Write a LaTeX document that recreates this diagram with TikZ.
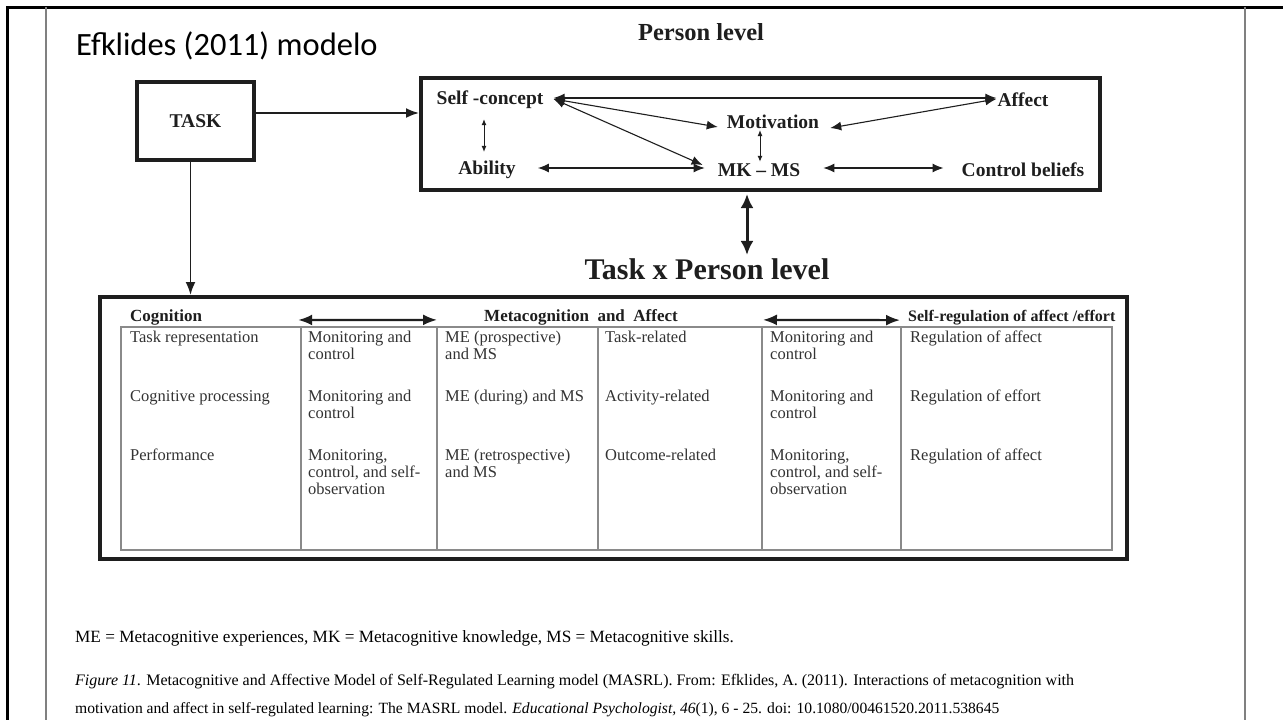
\documentclass[tikz,border=0pt]{standalone}
\usepackage{fontspec}
\setmainfont{Liberation Serif}
\newfontfamily\titlefont{Carlito}
\usetikzlibrary{arrows.meta}
\definecolor{ink}{HTML}{1E1E1E}
\definecolor{celltext}{HTML}{333333}
\definecolor{tline}{HTML}{8A8A8A}
\definecolor{frameg}{HTML}{808080}
\begin{document}
\begin{tikzpicture}[x=1pt,y=-1pt,
  lbl/.style={font=\fontsize{19.5}{22}\selectfont\bfseries, text=ink, inner sep=0pt},
  hdr/.style={font=\fontsize{17}{19}\selectfont\bfseries, text=ink, inner sep=0pt},
  cell/.style={font=\fontsize{16.5}{17}\selectfont, text=celltext, inner sep=0pt, anchor=north west, align=left},
  bigbox/.style={draw=ink, line width=4pt, inner sep=0pt},
  parr/.style={draw=ink, line width=1.1pt, {Latex[length=11pt,width=9pt]}-{Latex[length=11pt,width=9pt]}},
  sarr/.style={draw=ink, line width=1pt, {Latex[length=6pt,width=5pt]}-{Latex[length=6pt,width=5pt]}},
  harr/.style={draw=ink, line width=2.2pt, {Latex[length=14pt,width=11pt]}-{Latex[length=14pt,width=11pt]}},
  oarr/.style={draw=ink, line width=1.8pt, -{Latex[length=13pt,width=10pt]}},
  tbl/.style={draw=tline, line width=1.2pt},
  foot/.style={font=\fontsize{16}{18}\selectfont, anchor=base west, inner sep=0pt}
]
\useasboundingbox (0,0) rectangle (1283,720);
\fill[white] (0,0) rectangle (1283,720);

% page frame
\draw[black, line width=3pt] (7,720) -- (7,7) -- (1283,7);
\draw[frameg, line width=1.5pt] (46,7) -- (46,720);
\draw[frameg, line width=1.5pt] (1245,7) -- (1245,720);

% title
\node[anchor=base west, inner sep=0pt, font=\titlefont\fontsize{32.5}{36}\selectfont] (title) at (76,55) {Efklides (2011) modelo};

% headings
\node[font=\fontsize{24.5}{26}\selectfont\bfseries, text=ink, anchor=base, inner sep=0pt] (plevel) at (701,40) {Person level};
\node[font=\fontsize{30}{32}\selectfont\bfseries, text=ink, anchor=base, inner sep=0pt] (tplevel) at (707,279) {Task x Person level};

% boxes
\node[bigbox, minimum width=117pt, minimum height=78pt, font=\fontsize{19.5}{21}\selectfont\bfseries, text=ink] (task) at (195.5,121) {TASK};
\node[bigbox, minimum width=679pt, minimum height=112pt] (pbox) at (760.5,134) {};
\node[bigbox, minimum width=1027pt, minimum height=262pt] (bbox) at (613.5,428) {};

% person level labels
\node[lbl] (selfc) at (490,100) {Self -concept};
\node[lbl] (motiv) at (773,122) {Motivation};
\node[lbl] (ability) at (487,170) {Ability};
\node[lbl] (mkms) at (759,170) {MK -- MS};
\node[lbl] (affect) at (1023,100) {Affect};
\node[lbl] (control) at (1023,170) {Control beliefs};

% person level arrows
\draw[parr] ([xshift=10pt,yshift=2pt]selfc.east) -- ([xshift=-1pt,yshift=2pt]affect.west);
\draw[parr] ([xshift=10pt,yshift=1pt]selfc.east) -- ([xshift=-9pt,yshift=-5pt]motiv.west);
\draw[parr] ([xshift=10pt,yshift=1pt]selfc.east) -- ([xshift=-15pt,yshift=5pt]mkms.west);
\draw[parr] ([xshift=-1pt,yshift=1pt]affect.west) -- ([xshift=11pt,yshift=-6pt]motiv.east);
\draw[parr] ([xshift=22pt,yshift=2pt]ability.east) -- ([xshift=-13pt,yshift=2pt]mkms.west);
\draw[parr] ([xshift=23pt,yshift=2pt]mkms.east) -- ([xshift=-18pt,yshift=2pt]control.west);
\draw[sarr] ([xshift=-6pt,yshift=-10pt]selfc.south) -- ([xshift=-3pt,yshift=9pt]ability.north);
\draw[sarr] ([xshift=-13pt,yshift=-1pt]motiv.south) -- ([xshift=1pt,yshift=1.5pt]mkms.north);

% connectors between boxes
\draw[oarr] ([yshift=8pt]task.east) -- ([yshift=8pt]task.east -| pbox.west);
\draw[oarr] ([xshift=-5pt]task.south) -- ([xshift=-5pt]task.south |- bbox.north);
\draw[draw=ink, line width=3pt, {Latex[length=14pt,width=13pt]}-{Latex[length=14pt,width=13pt]}] ([xshift=-13.5pt,yshift=-2pt]pbox.south) -- ([xshift=40pt,yshift=3pt]tplevel.north);

% bottom box headers
\node[hdr, anchor=base west] (cog) at (130,321) {Cognition};
\node[hdr, anchor=base] (meta) at (581,321) {Metacognition\ \ and\ \ Affect};
\node[hdr, anchor=base west, font=\fontsize{16}{18}\selectfont\bfseries] (selfreg) at (908,321) {Self-regulation of affect /effort};
\draw[harr] ([xshift=96pt,yshift=-3pt]cog.east) -- ([xshift=-47pt,yshift=-3pt]meta.west);
\draw[harr] ([xshift=85pt,yshift=-3pt]meta.east) -- ([xshift=-8pt,yshift=-3pt]selfreg.west);

% table
\draw[tbl] (121,327) rectangle (1112,550);
\foreach \cx in {301,437,598,762,901} \draw[tbl] (\cx,327) -- (\cx,550);

\node[cell] (c11) at (130,330) {\strut Task representation};
\node[cell] (c12) at (308,330) {\strut Monitoring and\\control};
\node[cell] (c13) at (445,330) {\strut ME (prospective)\\and MS};
\node[cell] (c14) at (605,330) {\strut Task-related};
\node[cell] (c15) at (770,330) {\strut Monitoring and\\control};
\node[cell] (c16) at (910,330) {\strut Regulation of affect};

\node[cell] (c21) at (130,389) {\strut Cognitive processing};
\node[cell] (c22) at (308,389) {\strut Monitoring and\\control};
\node[cell] (c23) at (445,389) {\strut ME (during) and MS};
\node[cell] (c24) at (605,389) {\strut Activity-related};
\node[cell] (c25) at (770,389) {\strut Monitoring and\\control};
\node[cell] (c26) at (910,389) {\strut Regulation of effort};

\node[cell] (c31) at (130,448) {\strut Performance};
\node[cell] (c32) at (308,448) {\strut Monitoring,\\control, and self-\\observation};
\node[cell] (c33) at (445,448) {\strut ME (retrospective)\\and MS};
\node[cell] (c34) at (605,448) {\strut Outcome-related};
\node[cell] (c35) at (770,448) {\strut Monitoring,\\control, and self-\\observation};
\node[cell] (c36) at (910,448) {\strut Regulation of affect};

% footnotes
\node[foot, font=\fontsize{17.2}{18}\selectfont] (fn1) at (75,642) {ME = Metacognitive experiences, MK = Metacognitive knowledge, MS = Metacognitive skills.};
\node[foot] (fn2) at (75,685) {\textit{Figure 11}. Metacognitive and Affective Model of Self-Regulated Learning model (MASRL). From: Efklides, A. (2011). Interactions of metacognition with};
\node[foot, font=\fontsize{15.6}{18}\selectfont] (fn3) at (75,713) {motivation and affect in self-regulated learning: The MASRL model. \textit{Educational Psychologist, 46}(1), 6 - 25. doi: 10.1080/00461520.2011.538645};
\end{tikzpicture}
\end{document}
